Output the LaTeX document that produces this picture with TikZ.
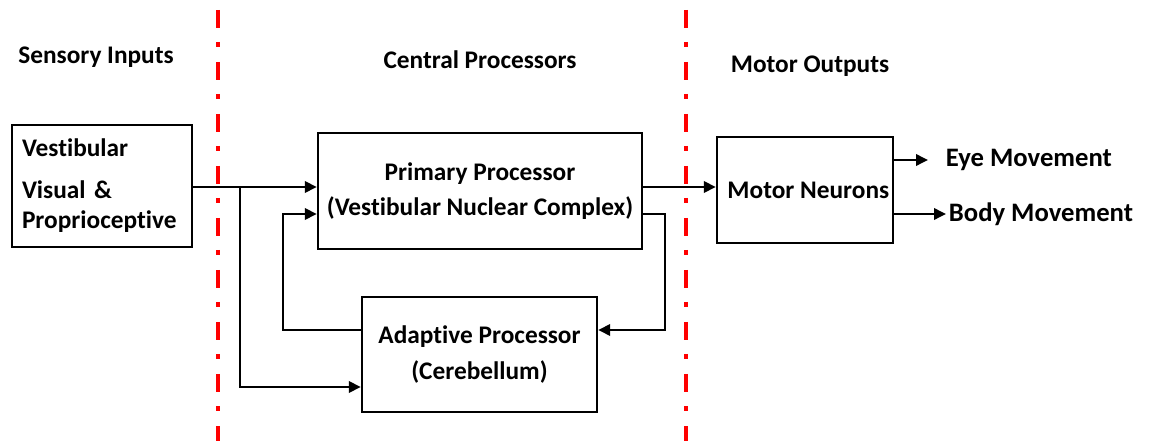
\documentclass[tikz,border=0pt]{standalone}
\usepackage{fontspec}
\setmainfont{Carlito}[Ligatures=NoCommon]
\usetikzlibrary{arrows.meta}

\tikzset{
  box/.style={draw, line width=1.8pt, inner sep=0pt, align=center,
    font=\bfseries\fontsize{19}{26}\selectfont},
  heading/.style={inner sep=0pt, font=\bfseries\fontsize{19}{23}\selectfont},
  outlabel/.style={anchor=west, inner xsep=2pt, inner ysep=0pt,
    font=\bfseries\fontsize{20}{24}\selectfont},
  arr/.style={line width=1.8pt, -{Triangle[length=9pt,width=8.5pt]}},
  divider/.style={red, line width=2.4pt,
    dash pattern=on 13.5pt off 10.5pt on 3.5pt off 11.5pt}
}

\begin{document}
\begin{tikzpicture}[x=0.75pt,y=0.75pt,yscale=-1,xscale=1]
        \useasboundingbox (0,0) rectangle (1149,441);

        % Headings
        \node[heading] (hsens) at (96,57) {Sensory Inputs};
        \node[heading] (hcent) at (480,60) {Central Processors};
        \node[heading] (hmot) at (810,66) {Motor Outputs};

        % Boxes
        \node[box, minimum width=135pt, minimum height=91.5pt, align=left,
          text width=120pt, inner xsep=7.5pt, font=\bfseries\fontsize{19}{22.5}\selectfont]
          (sens) at (102,186) {Vestibular\\[9pt]Visual \&\\Proprioceptive};
        \node[box, minimum width=243pt, minimum height=87pt] (prim) at (480,191)
          {Primary Processor\\(Vestibular Nuclear Complex)};
        \node[box, minimum width=176.25pt, minimum height=86.25pt,
          font=\bfseries\fontsize{19}{27.5}\selectfont] (adap) at (479.5,354.5)
          {Adaptive Processor\\(Cerebellum)};
        \node[box, minimum width=132pt, minimum height=79.5pt] (motor) at (805,190)
          {\hspace*{5pt}Motor Neurons};

        % Output labels
        \node[outlabel] (eye) at (943,160) {Eye Movement};
        \node[outlabel] (body) at (946,214) {Body Movement};

        % Rows and columns of the connectors
        \coordinate (row1) at (0,187);
        \coordinate (row2) at (0,214);
        \coordinate (row3) at (0,330);
        \coordinate (row4) at (0,387);
        \coordinate (bx) at (240,0);
        \coordinate (fx) at (283,0);
        \coordinate (rx) at (665,0);

        % Connectors
        \draw[arr] (sens.east |- row1) -- (prim.west |- row1);
        \draw[arr] (bx |- row1) -- (bx |- row4) -- (adap.west |- row4);
        \draw[arr] (adap.west |- row3) -- (fx |- row3) -- (fx |- row2) -- (prim.west |- row2);
        \draw[arr] (prim.east |- row2) -- (rx |- row2) -- (rx |- row3) -- (adap.east |- row3);
        \draw[arr] (prim.east |- row1) -- (motor.west |- row1);
        \draw[arr, shorten >=11.25pt] (motor.east |- eye) -- (eye.west);
        \draw[arr] (motor.east |- body) -- (body.west);

        % Dividers
        \draw[divider] (218,10) -- (218,441);
        \draw[divider] (686,10) -- (686,441);

\end{tikzpicture}
\end{document}
